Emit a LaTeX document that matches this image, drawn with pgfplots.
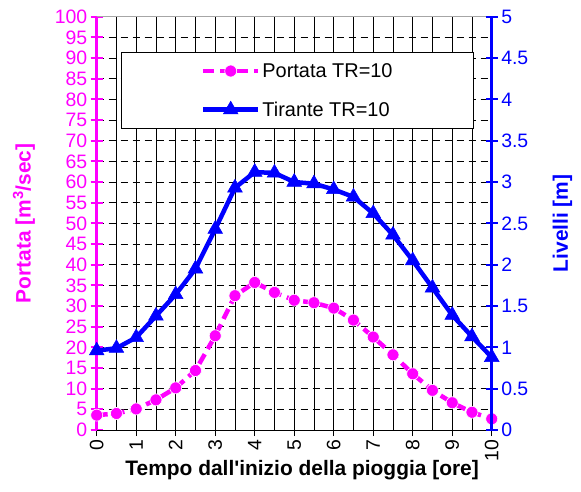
\documentclass[border=0pt]{standalone}
\usepackage{fontspec}
\setmainfont{Liberation Sans}
\usepackage{pgfplots}
\usepackage{pgfplotstable}
\pgfplotsset{compat=1.18}

\definecolor{portata}{RGB}{255,0,255}
\definecolor{tirante}{RGB}{0,0,255}

% Portata [m^3/s]
\pgfplotstableread{
t q
0   3.6
0.5 4.0
1   5.1
1.5 7.3
2   10.2
2.5 14.4
3   22.8
3.5 32.5
4   35.7
4.5 33.3
5   31.4
5.5 30.8
6   29.5
6.5 26.6
7   22.5
7.5 18.2
8   13.6
8.5 9.6
9   6.6
9.5 4.3
10  2.7
}\portata

% Tirante [m]
\pgfplotstableread{
t h
0   0.96
0.5 0.99
1   1.12
1.5 1.38
2   1.64
2.5 1.95
3   2.43
3.5 2.93
4   3.12
4.5 3.11
5   3.00
5.5 2.98
6   2.91
6.5 2.82
7   2.62
7.5 2.36
8   2.05
8.5 1.72
9   1.39
9.5 1.13
10  0.88
}\tirante

\begin{document}
\begin{tikzpicture}
\pgfplotsset{
  every axis/.append style={
    scale only axis, width=395bp, height=413.3bp,
    xmin=0, xmax=10, clip=false,
    /pgf/number format/assume math mode=true,
    tick label style={font=\fontsize{19.5}{23}\selectfont},
    label style={font=\fontsize{21}{25}\selectfont\bfseries},
    tick align=center, major tick length=12bp,
  },
  portatastyle/.style={portata, line width=4.5bp, dash pattern=on 11bp off 6bp,
    mark=*, mark size=6bp, mark options={solid, fill=portata, draw=white, line width=0.6bp}},
  tirantestyle/.style={tirante, line width=4.5bp,
    mark=triangle*, mark size=8.5bp, mark options={solid, fill=tirante, draw=tirante, line width=0.5bp}},
}
\begin{axis}[
  ymin=0, ymax=100,
  axis x line*=bottom, axis y line*=left,
  x axis line style={black, line width=1bp, -},
  y axis line style={portata, line width=3.5bp, -},
  xtick={0,...,10}, minor xtick={0.5,1.5,...,9.5},
  ytick={0,5,...,100},
  grid=both,
  major x grid style={black, line width=0.8bp},
  minor x grid style={black, line width=0.8bp},
  major y grid style={black, line width=0.8bp, dash pattern=on 7bp off 5bp},
  xtick style={black, line width=0.8bp},
  minor tick length=0pt,
  ytick style={portata, line width=2bp},
  x tick label style={rotate=90, anchor=east, black},
  y tick label style={portata},
  xlabel={Tempo dall\textquotesingle inizio della pioggia [ore]},
  xlabel style={at={(axis description cs:0.52,-0.097)}, anchor=center, black},
  ylabel={Portata [m\textsuperscript{3}/sec]},
  ylabel style={at={(axis description cs:-0.184,0.5)}, anchor=center, portata},
]
\draw[gray!70, line width=1bp] (rel axis cs:0,1) -- (rel axis cs:1,1);
\path (axis description cs:-0.2448,-0.1476) rectangle (axis description cs:1.226,1.0404);
\addplot[portatastyle] table[x=t, y=q] {\portata};
\end{axis}

\begin{axis}[
  ymin=0, ymax=5,
  axis x line=none, axis y line*=right,
  y axis line style={tirante, line width=3.5bp, -},
  ytick={0,0.5,1,1.5,2,2.5,3,3.5,4,4.5,5},
  ytick style={tirante, line width=2bp},
  y tick label style={tirante},
  ylabel={Livelli [m]},
  ylabel style={at={(axis description cs:1.179,0.5)}, anchor=center, tirante},
  legend style={at={(axis description cs:0.509,0.915)}, anchor=north,
    draw=black, line width=1bp, fill=white,
    font=\fontsize{20}{24}\selectfont, text=black,
    inner xsep=79bp, inner ysep=9bp, row sep=19bp},
  legend cell align=left,
  legend image code/.code={\draw[mark repeat=2, mark phase=2]
    plot coordinates {(0bp,0bp) (27.5bp,0bp) (55bp,0bp)};},
]
\addlegendimage{portatastyle}
\addlegendentry{Portata TR=10}
\addplot[tirantestyle] table[x=t, y=h] {\tirante};
\addlegendentry{Tirante TR=10}
\end{axis}
\end{tikzpicture}
\end{document}
